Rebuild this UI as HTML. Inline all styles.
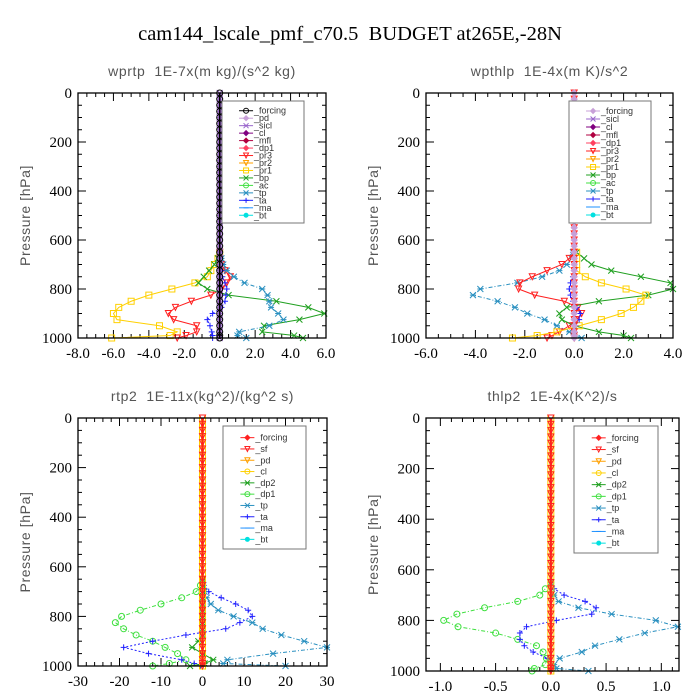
<!DOCTYPE html>
<html><head><meta charset="utf-8">
<style>
body{margin:0;background:#fff;}
svg{display:block;}
text{white-space:pre;}
.tk{font-family:"Liberation Serif",serif;font-size:15px;fill:#000;}
.pt{font-family:"Liberation Sans",sans-serif;font-size:14px;fill:#555;letter-spacing:0.6px;}
.lg{font-family:"Liberation Sans",sans-serif;font-size:9px;fill:#333;}
</style></head><body>
<svg id="chart" width="700" height="700" viewBox="0 0 700 700" xmlns="http://www.w3.org/2000/svg">
<text x="350" y="40" text-anchor="middle" font-family="Liberation Serif, serif" font-size="20.5" fill="#000">cam144_lscale_pmf_c70.5  BUDGET at265E,-28N</text>
</svg>
<script>
// pressure levels (hPa)
const upperLevels = [0,25,50,75,100,125,150,175,200,225,250,275,300,325,350,375,400,425,450,475,500,525,550,575,600,625];
const lowerLevels = [650,675,700,725,750,775,800,825,850,875,900,925,950,975,990,1000];

// panel 1: wprtp
const p1_pr1 = [0,-0.1,-0.3,-0.5,-0.7,-1.4,-2.7,-4.0,-5.0,-5.7,-6.0,-5.8,-3.4,-2.4,-2.8,-6.1];
const p1_pr3 = [0,0,0.1,0.3,0.6,0.4,0.1,-0.5,-1.6,-2.5,-2.9,-2.6,-1.3,-1.3,-1.9,-2.4];
const p1_bp  = [0,-0.1,-0.3,-0.6,-0.9,-1.2,-0.7,0.5,3.2,5.0,5.9,4.5,2.5,2.4,4.2,4.7];
const p1_tp  = [0,0.1,0.2,0.4,0.8,1.4,2.4,2.7,2.8,2.9,3.3,3.6,2.8,1.1,1.0,1.5];
const p1_ta  = [0,0,0.05,0.1,0.15,0.3,0.4,0.35,0.3,0.1,-0.4,-0.7,-0.55,-0.45,-0.4,-0.4];
// panel 2: wpthlp
const p2_tp  = [-0.05,-0.1,-0.3,-0.6,-1.3,-2.3,-3.8,-4.1,-3.1,-2.4,-1.9,-1.2,-0.7,-0.2,0,0.3];
const p2_pr3 = [0,-0.2,-0.5,-1.1,-1.7,-2.2,-2.25,-1.6,-0.4,0.15,0.3,0.1,-0.2,-0.6,-0.9,-1.1];
const p2_bp  = [0.1,0.4,0.7,1.5,2.7,3.9,4.0,3.0,1.0,-0.3,-0.6,-0.5,0,1.0,2.0,2.3];
const p2_pr1 = [0.1,0.1,0.1,0.1,0.45,1.1,2.1,2.9,2.7,2.4,1.9,1.1,0.2,-0.7,-1.5,-2.5];
const p2_ta  = [0,0,0,0,-0.05,-0.15,-0.2,-0.15,-0.05,0.1,0.25,0.2,0.05,0,0,0];
// panel 3: rtp2
const p3_dp1 = [0,-0.5,-1.5,-5,-10,-15,-19.5,-21,-19,-16,-12,-9,-6,-4,-8,-12];
const p3_ta  = [0,0.3,1.5,4.5,8,11,12,9,5.6,-4,-12,-19,-13,-5,-2,-0.5];
const p3_tp  = [0,0.2,0.5,1,2,3.8,7.5,12,14.5,19,24.5,30,17,6,5,20];
const p3_dp2 = [0,0,0,0,0,0,0,0,0,0,-1,-2.5,0,2.6,0.5,-3];
// panel 4: thlp2
const p4_dp1 = [0,-0.05,-0.1,-0.3,-0.6,-0.85,-0.97,-0.84,-0.5,-0.3,-0.13,-0.07,-0.04,-0.05,-0.15,-0.17];
const p4_ta  = [0,0.03,0.12,0.31,0.41,0.37,0.05,-0.22,-0.28,-0.28,-0.24,-0.16,-0.03,0,0,0];
const p4_tp  = [0,0.01,0.03,0.07,0.25,0.55,0.95,1.15,0.85,0.62,0.4,0.28,0.08,0.03,0.05,0.34];

const p1Ticks = ["-8.0","-6.0","-4.0","-2.0","0.0","2.0","4.0","6.0"];
const p2Ticks = ["-6.0","-4.0","-2.0","0.0","2.0","4.0"];
const p3Ticks = ["-30","-20","-10","0","10","20","30"];
const p4Ticks = ["-1.0","-0.5","0.0","0.5","1.0"];
const yTicks = ["0","200","400","600","800","1000"];

const C = {forcing:'#000',pd:'#c8a0d8',sicl:'#9a66cc',cl:'#800080',mfl:'#b00040',dp1:'#ff4060',pr3:'#ff2020',
  pr2:'#ffa000',pr1:'#ffd000',bp:'#20a020',ac:'#40e040',tp:'#2a90c0',ta:'#2020ff',ma:'#1e90ff',bt:'#00e0e0',
  sf:'#ff2020',dp2:'#20a020',forcingR:'#ff2020',forcingP:'#c8a0d8'};
const svg = document.getElementById('chart');
const NS = 'http://www.w3.org/2000/svg';
function mk(tag, attrs, parent){const e=document.createElementNS(NS,tag);for(const k in attrs)e.setAttribute(k,attrs[k]);(parent||svg).appendChild(e);return e;}
function marker(g,type,x,y,c,sz){
  const s=sz||3;
  if(type==='o'){mk('circle',{cx:x,cy:y,r:s,fill:'none',stroke:c,'stroke-width':1},g);}
  else if(type==='s'){mk('rect',{x:x-s,y:y-s,width:2*s,height:2*s,fill:'none',stroke:c,'stroke-width':1},g);}
  else if(type==='x'){mk('path',{d:`M${x-s} ${y-s}L${x+s} ${y+s}M${x-s} ${y+s}L${x+s} ${y-s}`,stroke:c,'stroke-width':1},g);}
  else if(type==='+'){mk('path',{d:`M${x-s} ${y}L${x+s} ${y}M${x} ${y-s}L${x} ${y+s}`,stroke:c,'stroke-width':1},g);}
  else if(type==='*'){mk('path',{d:`M${x-s} ${y}L${x+s} ${y}M${x-s} ${y-s}L${x+s} ${y+s}M${x-s} ${y+s}L${x+s} ${y-s}`,stroke:c,'stroke-width':1},g);}
  else if(type==='v'){mk('path',{d:`M${x-s} ${y-s}L${x+s} ${y-s}L${x} ${y+s}Z`,fill:'none',stroke:c,'stroke-width':1},g);}
  else if(type==='d'){mk('path',{d:`M${x} ${y-s}L${x+s} ${y}L${x} ${y+s}L${x-s} ${y}Z`,fill:c,stroke:c,'stroke-width':1},g);}
  else if(type==='f'){mk('circle',{cx:x,cy:y,r:s,fill:c},g);}
  else if(type==='-'){mk('path',{d:`M${x-s} ${y}L${x+s} ${y}`,stroke:c,'stroke-width':1},g);}
}
function panel(cfg){
  const {x0,x1,y0,y1,xmin,xmax,ticks,tickVals,title,series,legend,lgBox,name,zeroSeries,minorN}=cfg;
  const g=mk('g',{});
  
  
  const X=v=>x0+(v-xmin)/(xmax-xmin)*(x1-x0);
  const Y=p=>y0+p/1000*(y1-y0);
  const ax=mk('g',{},g);
  
  
  for(let p=0;p<=1000;p+=50){const L=(p%200===0)?8:4;
    mk('line',{x1:x0,x2:x0+L,y1:Y(p),y2:Y(p),stroke:'#000'},ax);mk('line',{x1:x1,x2:x1-L,y1:Y(p),y2:Y(p),stroke:'#000'},ax);}
  yTicks.forEach(t=>{const lab=mk('text',{x:x0-6,y:Y(+t)+5,'text-anchor':'end',class:'tk'},ax);lab.textContent=t;
    
    });
  const step=tickVals[1]-tickVals[0];
  for(let i=0;i<tickVals.length;i++){
    for(let j=0;j<minorN;j++){const v=tickVals[i]+j*step/minorN;if(v>xmax+1e-9)break;const L=j===0?8:4;
      mk('line',{x1:X(v),x2:X(v),y1:y1,y2:y1-L,stroke:'#000'},ax);mk('line',{x1:X(v),x2:X(v),y1:y0,y2:y0+L,stroke:'#000'},ax);}
    const lab=mk('text',{x:X(tickVals[i]),y:y1+20,'text-anchor':'middle',class:'tk'},ax);lab.textContent=ticks[i];
    
    
  }
  const t=mk('text',{x:(x0+x1)/2,y:y0-17,'text-anchor':'middle',class:'pt'},g);t.textContent=title;
  
  
  const yl=mk('text',{x:0,y:0,'text-anchor':'middle',class:'pt',transform:`translate(${x0-48},${(y0+y1)/2}) rotate(-90)`},g);yl.textContent='Pressure [hPa]';
  
  
  series.forEach(s=>{
    const sg=mk('g',{},g);
    
    
    const pts=s.vals.map((v,i)=>[X(v),Y(lowerLevels[i])]);
    pts.unshift([X(0),Y(upperLevels[upperLevels.length-1])]);
    const ln=mk('polyline',{points:pts.map(p=>p.join(',')).join(' '),fill:'none',stroke:C[s.key],'stroke-width':1,'stroke-dasharray':s.dash||'none'},sg);
    
    
    pts.slice(1).forEach(p=>marker(sg,s.m,p[0],p[1],C[s.key]));
  });
  zeroSeries.forEach(z=>{
    const zg=mk('g',{},g);
    
    
    mk('line',{x1:X(0),x2:X(0),y1:Y(0),y2:Y(1000),stroke:C[z.key],'stroke-width':z.w},zg);
    upperLevels.concat(lowerLevels).forEach(p=>marker(zg,z.m,X(0),Y(p),C[z.key]));
  });
  mk('rect',{x:x0,y:y0,width:x1-x0,height:y1-y0,fill:'none',stroke:'#000','stroke-width':1.3},g);
  const lg=mk('g',{},g);
  
  
  mk('rect',{x:lgBox[0],y:lgBox[1],width:lgBox[2],height:lgBox[3],fill:'#fff',stroke:'#777'},lg);
  const dy=(lgBox[3]-10)/legend.length;
  legend.forEach((e,i)=>{
    const yy=lgBox[1]+6+dy*i+dy/2;const lx=lgBox[0]+lgBox[2]*0.33;
    const eg=mk('g',{},lg);
    
    
    mk('line',{x1:lx-10,x2:lx+4,y1:yy,y2:yy,stroke:C[e[1]]},eg);
    marker(eg,e[2],lx-3,yy,C[e[1]],2.5);
    const tx=mk('text',{x:lx+5,y:yy+3,class:'lg'},eg);tx.textContent=e[0];
  });
}
const leg12=[['_forcing','forcing','o'],['_pd','pd','d'],['_sicl','sicl','*'],['_cl','cl','d'],['_mfl','mfl','d'],['_dp1','dp1','d'],['_pr3','pr3','v'],['_pr2','pr2','v'],['_pr1','pr1','s'],['_bp','bp','x'],['_ac','ac','o'],['_tp','tp','*'],['_ta','ta','+'],['_ma','ma','-'],['_bt','bt','f']];
const leg2=[['_forcing','forcingP','d'],['_sicl','sicl','*'],['_cl','cl','d'],['_mfl','mfl','d'],['_dp1','dp1','d'],['_pr3','pr3','v'],['_pr2','pr2','v'],['_pr1','pr1','s'],['_bp','bp','x'],['_ac','ac','o'],['_tp','tp','*'],['_ta','ta','+'],['_ma','ma','-'],['_bt','bt','f']];
const leg34=[['_forcing','forcingR','d'],['_sf','sf','v'],['_pd','pr2','v'],['_cl','pr1','o'],['_dp2','dp2','*'],['_dp1','ac','o'],['_tp','tp','*'],['_ta','ta','+'],['_ma','ma','-'],['_bt','bt','f']];
panel({name:'panel-wprtp',x0:78,x1:326,y0:93,y1:338,xmin:-8,xmax:6,ticks:p1Ticks,tickVals:p1Ticks.map(Number),minorN:4,
  title:'wprtp  1E-7x(m kg)/(s^2 kg)',
  series:[{key:'pr1',vals:p1_pr1,m:'s'},{key:'pr3',vals:p1_pr3,m:'v'},{key:'bp',vals:p1_bp,m:'x'},{key:'tp',vals:p1_tp,m:'*',dash:'4,2,1,2'},{key:'ta',vals:p1_ta,m:'+',dash:'2,2'}],
  zeroSeries:[{key:'sicl',m:'*',w:3},{key:'forcing',m:'o',w:1.5}],legend:leg12,lgBox:[222,101,82,122]});
panel({name:'panel-wpthlp',x0:426,x1:673,y0:93,y1:338,xmin:-6,xmax:4,ticks:p2Ticks,tickVals:p2Ticks.map(Number),minorN:4,
  title:'wpthlp  1E-4x(m K)/s^2',
  series:[{key:'tp',vals:p2_tp,m:'*',dash:'4,2,1,2'},{key:'pr3',vals:p2_pr3,m:'v'},{key:'bp',vals:p2_bp,m:'x'},{key:'pr1',vals:p2_pr1,m:'s'},{key:'ta',vals:p2_ta,m:'+',dash:'2,2'}],
  zeroSeries:[{key:'pr3',m:'v',w:2},{key:'forcingP',m:'d',w:2}],legend:leg2,lgBox:[569,101,82,122]});
panel({name:'panel-rtp2',x0:78,x1:327,y0:418,y1:666,xmin:-30,xmax:30,ticks:p3Ticks,tickVals:p3Ticks.map(Number),minorN:5,
  title:'rtp2  1E-11x(kg^2)/(kg^2 s)',
  series:[{key:'ac',vals:p3_dp1,m:'o',dash:'4,2,1,2'},{key:'ta',vals:p3_ta,m:'+',dash:'2,2'},{key:'tp',vals:p3_tp,m:'*',dash:'4,2,1,2'},{key:'dp2',vals:p3_dp2,m:'*'}],
  zeroSeries:[{key:'pr1',m:'s',w:3},{key:'forcingR',m:'v',w:2}],legend:leg34,lgBox:[223,426,83,123]});
panel({name:'panel-thlp2',x0:426,x1:679,y0:418,y1:671,xmin:-1.13,xmax:1.16,ticks:p4Ticks,tickVals:p4Ticks.map(Number),minorN:5,
  title:'thlp2  1E-4x(K^2)/s',
  series:[{key:'ac',vals:p4_dp1,m:'o',dash:'4,2,1,2'},{key:'ta',vals:p4_ta,m:'+',dash:'2,2'},{key:'tp',vals:p4_tp,m:'*',dash:'4,2,1,2'}],
  zeroSeries:[{key:'pr1',m:'s',w:3},{key:'forcingR',m:'v',w:2}],legend:leg34,lgBox:[574,426,84,127]});
</script>
</body></html>
